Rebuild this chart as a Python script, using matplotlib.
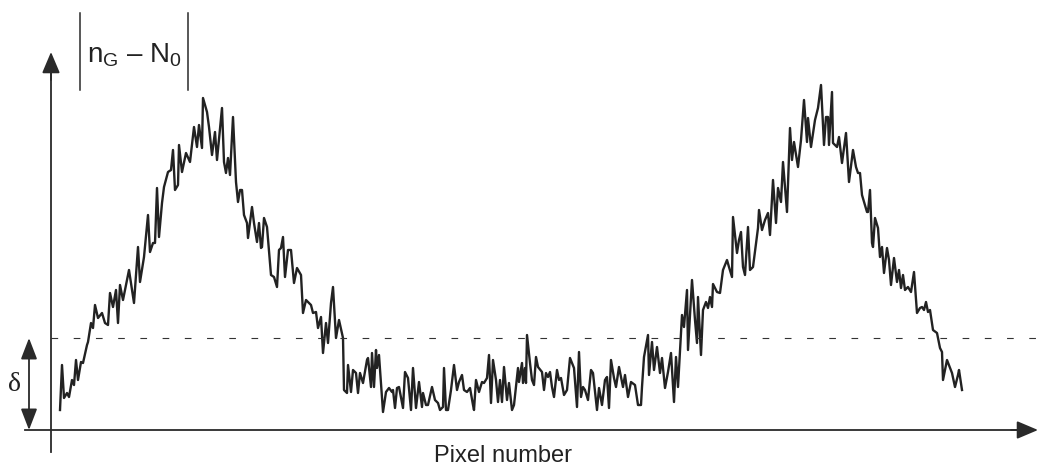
# coding: utf-8
import matplotlib
matplotlib.use("Agg")
import matplotlib.pyplot as plt

plt.rcParams['font.family'] = ['Liberation Sans', 'DejaVu Sans']
plt.rcParams['mathtext.fontset'] = 'custom'
plt.rcParams['mathtext.rm'] = 'Liberation Sans'
plt.rcParams['mathtext.it'] = 'Liberation Sans'

# signal: (pixel number, |nG - N0|) pairs, piece by piece
rise1 = [(9, 20), (11, 65), (13, 32), (16, 37), (18, 33), (21, 50), (23, 45),
         (25, 70), (27, 50), (30, 68), (32, 67), (36, 85), (37, 88), (40, 107),
         (42, 102), (44, 125), (47, 112), (51, 117), (54, 107), (57, 105),
         (59, 137), (62, 123), (65, 140), (67, 107), (69, 145), (72, 130),
         (74, 140), (78, 160), (83, 127), (87, 183), (89, 148), (93, 173),
         (97, 215), (99, 178), (102, 187), (104, 187), (106, 242), (108, 193),
         (111, 227), (113, 243), (117, 258), (120, 260), (122, 280), (124, 240),
         (127, 245), (128, 285), (131, 258), (135, 277), (139, 268), (143, 303),
         (146, 283), (148, 305), (151, 282), (152, 332)]
fall1 = [(156, 318), (158, 303), (161, 275), (164, 298), (166, 270), (171, 322),
         (173, 268), (175, 257), (177, 272), (179, 255), (182, 313), (185, 248),
         (187, 228), (189, 240), (191, 240), (193, 215), (196, 207), (197, 192),
         (201, 223), (203, 207), (206, 188), (208, 207), (210, 182), (211, 183),
         (213, 212), (216, 203), (220, 155), (223, 153), (226, 143), (228, 180),
         (230, 182), (232, 193), (234, 153), (237, 180), (240, 180), (243, 147),
         (246, 162), (250, 155), (252, 117), (255, 130), (257, 128), (260, 125),
         (262, 117), (265, 118), (267, 102), (270, 113), (272, 77), (275, 107),
         (277, 87), (280, 127), (282, 143), (285, 92), (288, 110), (292, 92)]
floor1 = [(293, 40), (296, 37), (297, 65), (300, 38), (302, 60), (305, 57),
          (307, 37), (309, 57), (312, 47), (316, 70), (317, 72), (320, 43),
          (321, 77), (323, 43), (325, 80), (326, 62), (328, 75), (331, 33),
          (332, 18), (335, 38), (338, 42), (341, 38), (342, 40), (344, 22),
          (346, 42), (348, 43), (352, 22), (354, 58), (357, 52), (360, 20),
          (362, 62), (365, 22), (368, 48), (371, 23), (372, 37), (375, 25),
          (377, 25), (381, 43), (384, 30), (387, 27), (389, 20), (392, 23),
          (393, 62), (395, 20), (397, 20), (400, 40), (403, 65), (406, 40),
          (408, 48), (411, 55), (413, 40), (416, 38), (419, 42), (422, 25),
          (423, 20), (425, 50), (428, 38), (431, 48), (433, 47), (436, 52),
          (438, 75), (440, 27), (442, 70), (445, 50), (447, 28)]
floor2 = [(449, 50), (451, 28), (453, 63), (456, 30), (458, 47), (461, 20),
          (463, 25), (467, 62), (468, 48), (471, 67), (472, 47), (474, 62),
          (475, 47), (476, 95), (479, 67), (481, 50), (483, 45), (485, 73),
          (487, 63), (491, 58), (493, 40), (495, 57), (497, 53), (499, 58),
          (501, 43), (503, 33), (506, 60), (508, 50), (510, 52), (513, 35),
          (516, 40), (519, 72), (523, 62), (526, 23), (528, 78), (530, 33),
          (532, 43), (534, 40), (537, 30), (540, 60), (542, 57), (546, 20),
          (548, 42), (551, 25), (554, 50), (556, 53), (558, 22), (560, 70),
          (563, 52), (565, 43), (568, 63), (572, 43), (574, 55), (577, 33),
          (580, 48), (584, 45), (587, 25), (590, 25)]
rise2 = [(591, 43), (593, 73), (597, 95), (598, 55), (601, 88), (603, 60),
         (606, 83), (609, 57), (611, 72), (614, 42), (617, 58), (620, 77),
         (623, 28), (625, 73), (627, 43), (631, 115), (633, 103), (636, 140),
         (637, 80), (641, 150), (644, 110), (646, 87), (647, 133), (650, 75),
         (652, 120), (655, 128), (657, 122), (659, 133), (661, 123), (662, 146),
         (666, 138), (669, 137), (672, 160), (676, 170), (678, 163), (681, 153),
         (682, 213), (686, 177), (688, 190), (690, 198), (692, 163), (694, 155),
         (697, 203), (699, 160), (702, 163), (707, 202), (708, 220), (711, 200),
         (714, 210), (717, 217), (719, 195), (722, 250), (725, 207), (727, 242),
         (730, 228), (732, 268), (736, 218), (739, 302), (741, 270), (743, 288),
         (747, 263), (750, 290), (753, 330), (756, 288), (757, 312), (760, 283)]
fall2 = [(764, 310), (767, 322), (770, 345), (773, 285), (775, 313), (777, 313),
         (778, 285), (781, 338), (782, 287), (786, 283), (788, 293), (791, 267),
         (795, 297), (798, 248), (802, 280), (805, 263), (807, 257), (809, 257),
         (811, 235), (816, 218), (817, 218), (819, 240), (821, 187), (822, 183),
         (824, 212), (827, 202), (829, 173), (831, 183), (833, 157), (836, 182),
         (838, 170), (840, 145), (843, 172), (846, 148), (848, 160), (850, 142),
         (852, 155), (854, 140), (857, 143), (860, 138), (863, 158), (866, 117),
         (869, 122), (871, 123), (873, 120), (875, 128), (877, 118), (879, 120),
         (882, 100), (886, 97), (887, 92), (889, 82), (891, 78), (892, 50),
         (896, 70), (901, 57), (904, 43), (907, 55), (908, 60), (911, 40)]
delta = 92

signal = rise1 + fall1 + floor1 + floor2 + rise2 + fall2
px = [p[0] for p in signal]
val = [p[1] for p in signal]

fig = plt.figure(figsize=(10.4, 4.73), dpi=100)
ax = fig.add_axes([0, 0, 1, 1])
ax.set_xlim(-51, 989)
ax.set_ylim(-43, 430)
ax.axis('off')

ax.plot(px, val, color='#222222', lw=1.7)

# threshold
ax.plot([0, 989], [delta, delta], color='#333333', lw=0.8,
        linestyle=(0, (6, 14)))

# axes with arrow heads
arrow = dict(arrowstyle='-|>,head_length=1.3,head_width=0.55',
             color='#2a2a2a', lw=1.3, mutation_scale=10, shrinkA=0, shrinkB=0)
ax.plot([-26, 975], [0, 0], color='#2a2a2a', lw=1.3)
ax.annotate('', xy=(987, 0), xytext=(960, 0), arrowprops=arrow)
ax.plot([0, 0], [-22, 360], color='#2a2a2a', lw=1.3)
ax.annotate('', xy=(0, 378), xytext=(0, 350), arrowprops=arrow)

# delta marker
ax.annotate('', xy=(-22, delta), xytext=(-22, 0),
            arrowprops=dict(arrowstyle='<|-|>,head_length=1.3,head_width=0.5',
                            color='#2a2a2a', lw=1.3, mutation_scale=10,
                            shrinkA=0, shrinkB=0))
ax.text(-37, 46, 'δ', fontsize=20, family=['Liberation Serif', 'DejaVu Serif'],
        ha='center', va='center', color='#222222')

# ordinate label |n_G - N_0|
ax.plot([29, 29], [340, 417], color='#2a2a2a', lw=1.1)
ax.plot([137, 137], [340, 417], color='#2a2a2a', lw=1.1)
ax.text(83, 375, r'$\mathregular{n_G}$ – $\mathregular{N_0}$', fontsize=20,
        ha='center', va='center', color='#222222')

ax.text(452, -26, 'Pixel number', fontsize=17, ha='center', va='center',
        color='#222222')

plt.savefig('out.png', dpi=100)
